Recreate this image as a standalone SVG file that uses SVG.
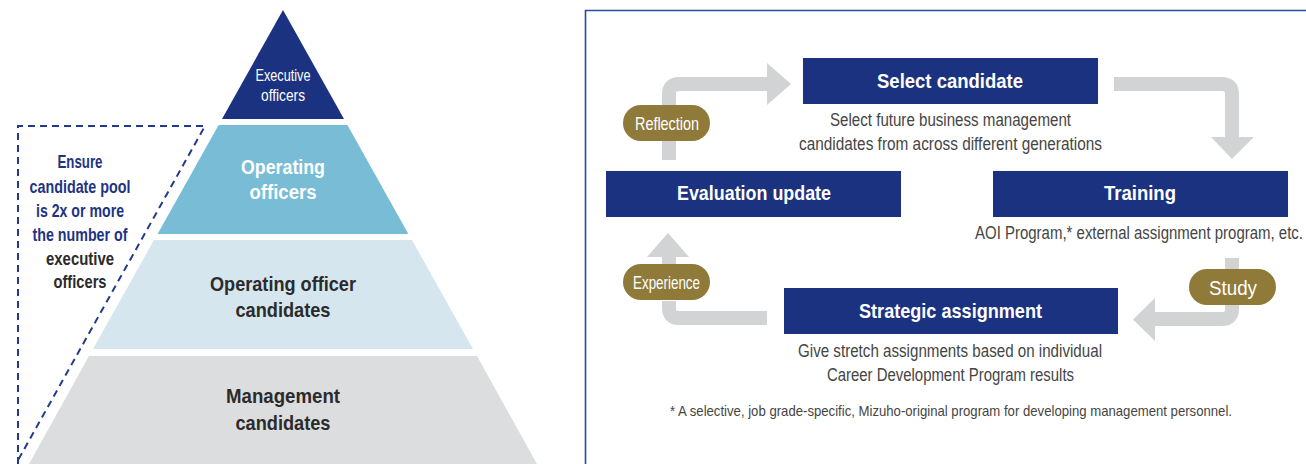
<svg xmlns="http://www.w3.org/2000/svg" width="1306" height="464" viewBox="0 0 1306 464">
<defs>
<style>
text{font-family:"Liberation Sans",Arial,sans-serif;text-anchor:middle}
.b{font-weight:bold}
.w{fill:#ffffff}
.dk{fill:#2b2b2b}
.nv{fill:#1f3384}
.g{fill:#454545;font-size:17.5px}
.box{fill:#1b3281}
.pill{fill:#8f7a3a}
.ar{fill:none;stroke:#d2d3d5;stroke-width:14}
.hd{fill:#d2d3d5}
</style>
</defs>
<rect width="1306" height="464" fill="#ffffff"/>

<g id="pyramid">
<g id="executive-officers">
<polygon points="283,10 344,119 222,119" fill="#1b3281"/>
<text class="w" x="283" y="81" font-size="17" textLength="55" lengthAdjust="spacingAndGlyphs">Executive</text>
<text class="w" x="283" y="101" font-size="17" textLength="44" lengthAdjust="spacingAndGlyphs">officers</text>
</g>
<g id="operating-officers">
<polygon points="218.6,125 347.4,125 408.4,234 157.6,234" fill="#78bcd6"/>
<text class="w b" x="283" y="174" font-size="20.5" textLength="84" lengthAdjust="spacingAndGlyphs">Operating</text>
<text class="w b" x="283" y="199" font-size="20.5" textLength="67" lengthAdjust="spacingAndGlyphs">officers</text>
</g>
<g id="operating-officer-candidates">
<polygon points="154,240 412,240 473,349 93,349" fill="#d5e6ef"/>
<text class="dk b" x="283" y="291" font-size="20.5" textLength="146" lengthAdjust="spacingAndGlyphs">Operating officer</text>
<text class="dk b" x="283" y="317" font-size="20.5" textLength="95" lengthAdjust="spacingAndGlyphs">candidates</text>
</g>
<g id="management-candidates">
<polygon points="89,356 477,356 537,464 29,464" fill="#dcdddf"/>
<text class="dk b" x="283" y="403" font-size="20.5" textLength="114" lengthAdjust="spacingAndGlyphs">Management</text>
<text class="dk b" x="283" y="430" font-size="20.5" textLength="95" lengthAdjust="spacingAndGlyphs">candidates</text>
</g>
</g>

<g id="candidate-pool-note">
<path d="M18,464 V126 H205 L17,462" fill="none" stroke="#233a8a" stroke-width="2" stroke-dasharray="7,5"/>
<text class="nv b" x="80" y="168" font-size="18.5" textLength="45" lengthAdjust="spacingAndGlyphs">Ensure</text>
<text class="nv b" x="80" y="193" font-size="18.5" textLength="101" lengthAdjust="spacingAndGlyphs">candidate pool</text>
<text class="nv b" x="80" y="217" font-size="18.5" textLength="88" lengthAdjust="spacingAndGlyphs">is 2x or more</text>
<text class="nv b" x="80" y="241" font-size="18.5" textLength="95" lengthAdjust="spacingAndGlyphs">the number of</text>
<text class="dk b" x="80" y="265" font-size="18.5" textLength="68" lengthAdjust="spacingAndGlyphs">executive</text>
<text class="dk b" x="80" y="288" font-size="18.5" textLength="53" lengthAdjust="spacingAndGlyphs">officers</text>
</g>

<g id="panel-frame">
<path d="M585.5,464 V10.5 H1306" fill="none" stroke="#2b4ba0" stroke-width="1.6"/>
</g>

<g id="connectors">
<path class="ar" d="M669,160 V141"/>
<path class="ar" d="M669,105 V94 Q669,84 679,84 H769"/>
<polygon class="hd" points="767,63 791,84 767,105"/>
<path class="ar" d="M1114,84 H1222 Q1232,84 1232,94 V138"/>
<polygon class="hd" points="1211,137 1254,137 1232,159"/>
<path class="ar" d="M1232,258 V269"/>
<path class="ar" d="M1232,305 V309 Q1232,319 1222,319 H1152"/>
<polygon class="hd" points="1155,298 1155,341 1133,319.5"/>
<path class="ar" d="M767,318 H679 Q669,318 669,308 V301"/>
<path class="ar" d="M669,264 V255"/>
<polygon class="hd" points="647,257 689,257 668,233"/>
</g>

<g id="select-candidate">
<rect class="box" x="803" y="58" width="295" height="46"/>
<text class="w b" x="950" y="88" font-size="21" textLength="146" lengthAdjust="spacingAndGlyphs">Select candidate</text>
<text class="g" x="950.5" y="126" textLength="241" lengthAdjust="spacingAndGlyphs">Select future business management</text>
<text class="g" x="950.5" y="150" textLength="303" lengthAdjust="spacingAndGlyphs">candidates from across different generations</text>
</g>

<g id="training">
<rect class="box" x="993" y="171" width="295" height="46"/>
<text class="w b" x="1140" y="200" font-size="21" textLength="72" lengthAdjust="spacingAndGlyphs">Training</text>
<text class="g" x="1139" y="239" textLength="328" lengthAdjust="spacingAndGlyphs">AOI Program,* external assignment program, etc.</text>
</g>

<g id="strategic-assignment">
<rect class="box" x="784" y="288" width="334" height="46"/>
<text class="w b" x="950.5" y="318" font-size="21" textLength="183" lengthAdjust="spacingAndGlyphs">Strategic assignment</text>
<text class="g" x="950" y="357" textLength="304" lengthAdjust="spacingAndGlyphs">Give stretch assignments based on individual</text>
<text class="g" x="950.5" y="381" textLength="247" lengthAdjust="spacingAndGlyphs">Career Development Program results</text>
</g>

<g id="evaluation-update">
<rect class="box" x="606" y="171" width="295" height="46"/>
<text class="w b" x="754" y="200" font-size="21" textLength="154" lengthAdjust="spacingAndGlyphs">Evaluation update</text>
</g>

<g id="reflection">
<rect class="pill" x="623" y="105" width="87" height="36" rx="18"/>
<text class="w" x="667" y="130" font-size="19" textLength="64" lengthAdjust="spacingAndGlyphs">Reflection</text>
</g>

<g id="experience">
<rect class="pill" x="623" y="264" width="87" height="36" rx="18"/>
<text class="w" x="666.5" y="289" font-size="19" textLength="67" lengthAdjust="spacingAndGlyphs">Experience</text>
</g>

<g id="study">
<rect class="pill" x="1189" y="269" width="87" height="36" rx="18"/>
<text class="w" x="1233" y="295" font-size="21" textLength="48" lengthAdjust="spacingAndGlyphs">Study</text>
</g>

<g id="footnote">
<text x="951" y="416" font-size="14.5" fill="#454545" textLength="562" lengthAdjust="spacingAndGlyphs">* A selective, job grade-specific, Mizuho-original program for developing management personnel.</text>
</g>
</svg>
